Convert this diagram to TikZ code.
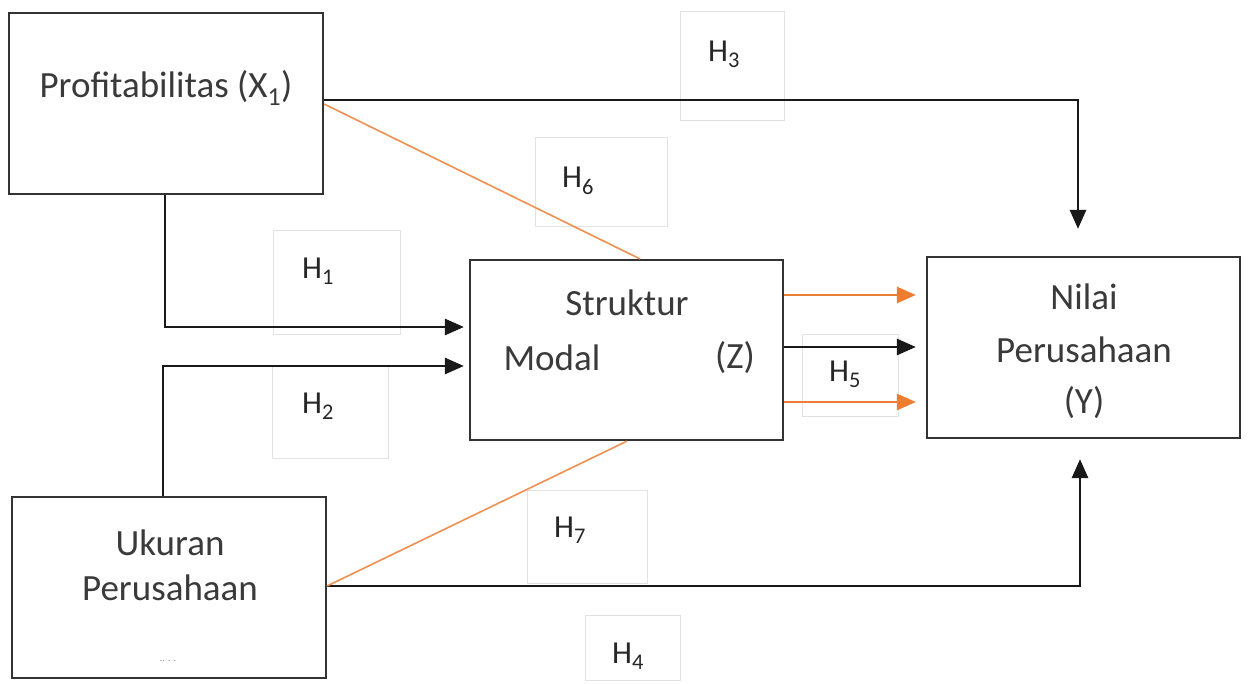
\documentclass[tikz,border=0pt]{standalone}
\usepackage{fontspec}
\setmainfont{Carlito}
\usetikzlibrary{arrows.meta,calc}
\definecolor{boxline}{HTML}{333333}
\definecolor{txt}{HTML}{3A3A3A}
\definecolor{orng}{HTML}{ED7D31}
\definecolor{faint}{HTML}{E2E2E2}
\begin{document}
\begin{tikzpicture}[x=1pt,y=-1pt,
  mainbox/.style={draw=boxline,line width=2.2pt,fill=white,inner sep=0pt},
  hbox/.style={draw=faint,line width=1pt,inner sep=0pt},
  btxt/.style={text=txt,font=\fontsize{37}{44}\selectfont,inner sep=0pt,anchor=center},
  htxt/.style={text=black!85,font=\fontsize{32}{38}\selectfont,inner sep=0pt,anchor=center},
  conn/.style={draw=black!90,line width=2.8pt,-{Triangle[length=19pt,width=16pt]}},
  oconn/.style={draw=orng,line width=2.8pt,-{Triangle[length=19pt,width=16pt]}},
  oline/.style={draw=orng!85,line width=1.6pt},
]
\useasboundingbox (0,0) rectangle (1253,684);
\fill[white] (0,0) rectangle (1253,684);

% faint hypothesis boxes
\node[hbox,minimum width=104pt,minimum height=109pt] (h3box) at (732,66.5) {};
\node[hbox,minimum width=132pt,minimum height=89pt] (h6box) at (601,182.5) {};
\node[hbox,minimum width=127pt,minimum height=104pt] (h1box) at (336.5,283) {};
\node[hbox,minimum width=116pt,minimum height=91pt] (h2box) at (330,412.5) {};
\node[hbox,minimum width=96pt,minimum height=82pt] (h5box) at (850,376) {};
\node[hbox,minimum width=120pt,minimum height=93pt] (h7box) at (587,536.5) {};
\node[hbox,minimum width=95pt,minimum height=65pt] (h4box) at (632.5,647.5) {};

% main boxes
\node[mainbox,minimum width=314pt,minimum height=181pt] (P) at (166,103.5) {};
\node[mainbox,minimum width=314pt,minimum height=181pt] (U) at (169,587.5) {};
\node[mainbox,minimum width=313pt,minimum height=180pt] (S) at (626.5,350) {};
\node[mainbox,minimum width=313pt,minimum height=181pt] (N) at (1083.5,347.5) {};

% connectors
\draw[conn,shorten >=27pt] ([yshift=3.5pt]P.east) -| ([xshift=-5.5pt]N.north);
\draw[oline] ([yshift=-0.5pt]P.east) -- ([xshift=13.5pt]S.north);
\draw[conn,shorten >=5pt] ([xshift=-1pt]P.south) |- ([yshift=23pt]S.west);
\draw[conn,shorten >=5pt] ([xshift=-6pt]U.north) |- ([yshift=-16pt]S.west);
\draw[conn,shorten >=20pt] ([yshift=1.5pt]U.east) -| ([xshift=-3.5pt]N.south);
\draw[oline] ([yshift=1.5pt]U.east) -- ([xshift=0.5pt]S.south);
\draw[oconn,shorten >=10pt] ([yshift=55pt]S.east) -- ([yshift=55pt]S.east -| N.west);
\draw[conn,shorten >=10pt] ([yshift=3pt]S.east) -- ([yshift=3pt]S.east -| N.west);
\draw[oconn,shorten >=10pt] ([yshift=-52pt]S.east) -- ([yshift=-52pt]S.east -| N.west);

% box texts
\node[btxt] (ptxt) at (166,88) {Profitabilitas (X\textsubscript{1})};
\node[btxt] (utxt1) at (170,543) {Ukuran};
\node[btxt] (utxt2) at (170,588) {Perusahaan};
\node[text=black!45,font=\fontsize{10}{12}\selectfont,inner sep=0pt] (udots) at (168,661) {.. . .};
\node[btxt] (stxt1) at (627,303) {Struktur};
\node[btxt] (stxt2) at (552,358) {Modal};
\node[btxt] (stxt3) at (735,358) {(Z)};
\node[btxt] (ntxt1) at (1084,297) {Nilai};
\node[btxt] (ntxt2) at (1084,350) {Perusahaan};
\node[btxt] (ntxt3) at (1084,403) {(Y)};

% hypothesis labels
\node[htxt] (h3) at (724,54) {H\textsubscript{3}};
\node[htxt] (h6) at (578,181) {H\textsubscript{6}};
\node[htxt] (h1) at (318,271) {H\textsubscript{1}};
\node[htxt] (h2) at (318,406) {H\textsubscript{2}};
\node[htxt] (h5) at (845,374) {H\textsubscript{5}};
\node[htxt] (h7) at (570,530) {H\textsubscript{7}};
\node[htxt] (h4) at (628,656) {H\textsubscript{4}};
\end{tikzpicture}
\end{document}
